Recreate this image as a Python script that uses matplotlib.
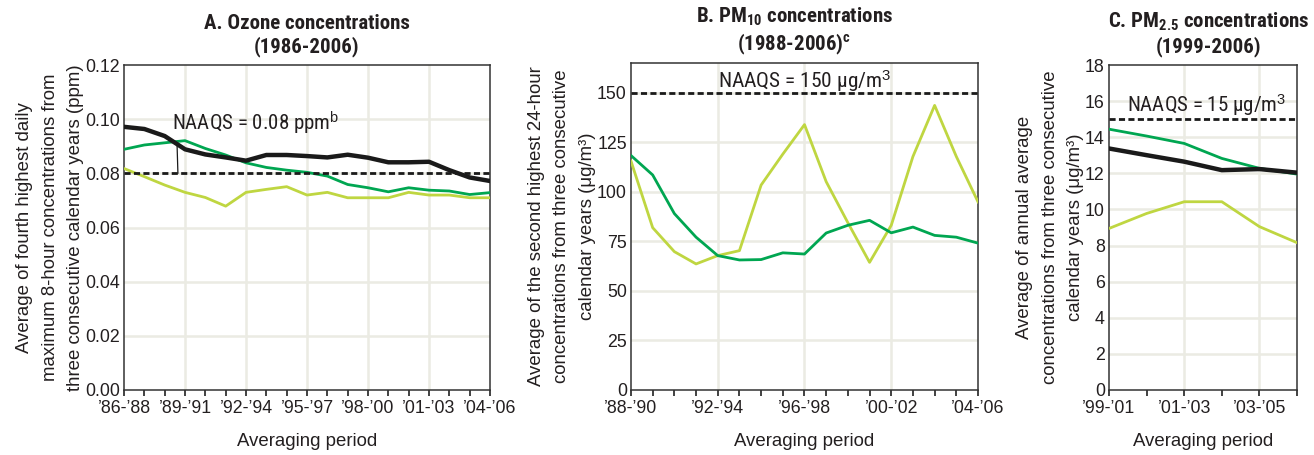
import matplotlib
matplotlib.use("Agg")
import matplotlib.pyplot as plt
from matplotlib import font_manager as fm

names = {f.name for f in fm.fontManager.ttflist}
REG = 'Liberation Sans' if 'Liberation Sans' in names else 'DejaVu Sans'


def _wnum(w):
    if isinstance(w, (int, float)):
        return int(w)
    return {'normal': 400, 'regular': 400, 'book': 400, 'medium': 500, 'semibold': 600,
            'demibold': 600, 'bold': 700, 'heavy': 800, 'black': 900, 'light': 300}.get(str(w).lower(), 400)


def find_narrow(bold):
    pref = ['liberation sans narrow', 'roboto condensed', 'open sans condensed', 'noto sans',
            'dejavu sans', 'lato', 'inter']
    best = None
    for f in fm.fontManager.ttflist:
        fn = f.fname.lower().replace('-', '').replace('_', '')
        nm = f.name.lower()
        st = str(f.stretch).lower()
        if 'semicondensed' in fn or 'extracondensed' in fn or 'ultracondensed' in fn:
            continue
        narrow = ('narrow' in nm or 'condensed' in nm or st == 'condensed'
                  or 'condensed' in fn or 'narrow' in fn)
        if not narrow or f.style != 'normal':
            continue
        if any(k in nm for k in ('cjk', 'mono', 'serif')):
            continue
        w = _wnum(f.weight)
        if bold and not (650 <= w <= 750):
            continue
        if not bold and not (380 <= w <= 420):
            continue
        rank = len(pref)
        for i, p in enumerate(pref):
            if nm.startswith(p):
                rank = i
                break
        if best is None or rank < best[0]:
            best = (rank, f.fname, f.name)
    return best


nb = find_narrow(True)
nr = find_narrow(False)


def title_fp(size):
    if nb:
        return fm.FontProperties(fname=nb[1], size=size)
    return fm.FontProperties(family=REG, weight='bold', size=size * 0.83)


def naaqs_fp(size):
    if nr:
        return fm.FontProperties(fname=nr[1], size=size)
    return fm.FontProperties(family=REG, size=size * 0.85)


TITLE_FAMILY = nb[2] if nb else REG

plt.rcParams['font.family'] = [REG, 'DejaVu Sans']
plt.rcParams['mathtext.fontset'] = 'custom'
plt.rcParams['mathtext.rm'] = REG
plt.rcParams['mathtext.it'] = REG
plt.rcParams['mathtext.bf'] = TITLE_FAMILY + ':bold'

# ---------------- data ----------------
ozone_periods = ["\u201986-\u201988", "\u201987-\u201989", "\u201988-\u201990", "\u201989-\u201991",
                 "\u201990-\u201992", "\u201991-\u201993", "\u201992-\u201994", "\u201993-\u201995",
                 "\u201994-\u201996", "\u201995-\u201997", "\u201996-\u201998", "\u201997-\u201999",
                 "\u201998-\u201900", "\u201999-\u201901", "\u201900-\u201902", "\u201901-\u201903",
                 "\u201902-\u201904", "\u201903-\u201905", "\u201904-\u201906"]
ozone_black = [0.0972, 0.0964, 0.0938, 0.0889, 0.0870, 0.0859, 0.0847, 0.0868, 0.0868, 0.0864,
               0.0859, 0.0869, 0.0858, 0.0841, 0.0841, 0.0843, 0.0812, 0.0785, 0.0772]
ozone_dark = [0.0889, 0.0905, 0.0913, 0.0921, 0.0892, 0.0868, 0.0839, 0.0822, 0.0812, 0.0804,
              0.0790, 0.0759, 0.0747, 0.0732, 0.0747, 0.0738, 0.0735, 0.0722, 0.0729]
ozone_light = [0.0818, 0.0788, 0.0757, 0.0730, 0.0711, 0.0679, 0.0730, 0.0741, 0.0751, 0.0720,
               0.0730, 0.0710, 0.0710, 0.0710, 0.0730, 0.0720, 0.0720, 0.0710, 0.0710]
ozone_naaqs = 0.08

pm10_periods = ["\u201988-\u201990", "\u201989-\u201991", "\u201990-\u201992", "\u201991-\u201993",
                "\u201992-\u201994", "\u201993-\u201995", "\u201994-\u201996", "\u201995-\u201997",
                "\u201996-\u201998", "\u201997-\u201999", "\u201998-\u201900", "\u201999-\u201901",
                "\u201900-\u201902", "\u201901-\u201903", "\u201902-\u201904", "\u201903-\u201905",
                "\u201904-\u201906"]
pm10_dark = [118.3, 108.5, 89.0, 77.1, 67.8, 65.6, 65.8, 69.2, 68.6, 79.2, 83.1, 85.6, 79.3,
             82.2, 78.0, 77.1, 74.1]
pm10_light = [115.5, 81.9, 69.8, 63.6, 67.8, 70.3, 103.4, 119.0, 133.9, 105.1, 84.4, 64.4,
              83.1, 117.8, 143.6, 117.8, 94.9]
pm10_naaqs = 150

pm25_periods = ["\u201999-\u201901", "\u201900-\u201902", "\u201901-\u201903", "\u201902-\u201904",
                "\u201903-\u201905", "\u201904-\u201906"]
pm25_dark = [14.45, 14.07, 13.66, 12.83, 12.28, 11.96]
pm25_black = [13.38, 13.01, 12.65, 12.18, 12.24, 12.04]
pm25_light = [8.95, 9.78, 10.43, 10.43, 9.05, 8.16]
pm25_naaqs = 15

# ---------------- style ----------------
DARK = '#00A651'
LIGHT = '#BFD641'
BLACK = '#1A1A1A'
GRID = '#EBEBE3'
TXT = '#231F20'
DASH = (2.2, 1.2)

fig = plt.figure(figsize=(13.14, 4.55), dpi=100)
bottom, height = 0.1429, 0.714
axA = fig.add_axes([0.0944, bottom, 0.2785, height])
axB = fig.add_axes([0.4802, bottom, 0.2641, 0.7187])
axC = fig.add_axes([0.8440, bottom, 0.1431, height])


def style(ax, labels, label_every, yticks, ylim, fmt):
    n = len(labels)
    x = list(range(n))
    ax.set_xlim(0, n - 1)
    ax.set_ylim(*ylim)
    ax.set_xticks(x)
    ax.set_xticklabels([lab if i % label_every == 0 else '' for i, lab in enumerate(labels)])
    ax.set_yticks(yticks)
    ax.set_yticklabels([fmt(v) for v in yticks])
    for i in x:
        if i % label_every == 0 and 0 < i < n - 1:
            ax.axvline(i, color=GRID, lw=1.8, zorder=0)
    for v in yticks:
        if ylim[0] < v < ylim[1]:
            ax.axhline(v, color=GRID, lw=1.8, zorder=0)
    for s in ax.spines.values():
        s.set_color('#333333')
        s.set_linewidth(1.1)
    ax.tick_params(axis='x', direction='out', length=4, width=1.3, color='#333333',
                   labelsize=12.8, labelcolor=TXT, pad=3)
    ax.tick_params(axis='y', length=0, labelsize=12.8, labelcolor=TXT, pad=3)
    ax.set_xlabel('Averaging period', fontsize=13.4, color=TXT, labelpad=12)
    return x


def ylab(ax, text):
    ax.set_ylabel(text, fontsize=13.4, color=TXT, labelpad=1, linespacing=1.62)


def title(ax, text, x):
    ax.set_title(text, color=TXT, pad=9, x=x, linespacing=1.2, fontproperties=title_fp(15))


# Panel A
xA = style(axA, ozone_periods, 3, [0, 0.02, 0.04, 0.06, 0.08, 0.10, 0.12], (0, 0.12),
           lambda v: f"{v:.2f}")
axA.plot(xA, ozone_light, color=LIGHT, lw=2.0, zorder=3)
axA.plot(xA, ozone_dark, color=DARK, lw=2.0, zorder=4)
axA.plot(xA, ozone_black, color=BLACK, lw=3.2, zorder=5)
axA.axhline(ozone_naaqs, color=BLACK, lw=2.0, dashes=DASH, zorder=6)
axA.annotate('NAAQS = 0.08 ppm$^{\\mathrm{b}}$', xy=(2.65, ozone_naaqs), xytext=(2.35, 0.0958),
             color=TXT, ha='left', va='baseline', fontproperties=naaqs_fp(15),
             arrowprops=dict(arrowstyle='-', color=BLACK, lw=0.9, shrinkA=2, shrinkB=0,
                             relpos=(0.03, 0.0)))
ylab(axA, 'Average of fourth highest daily\nmaximum 8-hour concentrations from\n'
          'three consecutive calendar years (ppm)')
title(axA, 'A. Ozone concentrations\n(1986-2006)', 0.5)

# Panel B
xB = style(axB, pm10_periods, 4, [0, 25, 50, 75, 100, 125, 150], (0, 165),
           lambda v: f"{v:d}")
axB.plot(xB, pm10_light, color=LIGHT, lw=2.0, zorder=3)
axB.plot(xB, pm10_dark, color=DARK, lw=2.0, zorder=4)
axB.axhline(pm10_naaqs, color=BLACK, lw=2.0, dashes=DASH, zorder=6)
axB.text(0.5, 152.5, 'NAAQS = 150 \u03bcg/m$^3$', transform=axB.get_yaxis_transform(),
         color=TXT, ha='center', va='baseline', fontproperties=naaqs_fp(15.4))
ylab(axB, 'Average of the second highest 24-hour\nconcentrations from three consecutive\n'
          'calendar years (\u03bcg/m\u00b3)')
title(axB, 'B. PM$_{\\mathbf{10}}$ concentrations\n(1988-2006)$^{\\mathbf{c}}$', 0.47)

# Panel C
xC = style(axC, pm25_periods, 2, list(range(0, 19, 2)), (0, 18), lambda v: f"{v:d}")
axC.plot(xC, pm25_light, color=LIGHT, lw=2.0, zorder=3)
axC.plot(xC, pm25_dark, color=DARK, lw=2.0, zorder=4)
axC.plot(xC, pm25_black, color=BLACK, lw=3.2, zorder=5)
axC.axhline(pm25_naaqs, color=BLACK, lw=2.0, dashes=DASH, zorder=6)
axC.text(0.096, 15.4, 'NAAQS = 15 \u03bcg/m$^3$', transform=axC.get_yaxis_transform(),
         color=TXT, ha='left', va='baseline', fontproperties=naaqs_fp(15))
ylab(axC, 'Average of annual average\nconcentrations from three consecutive\n'
          'calendar years (\u03bcg/m\u00b3)')
title(axC, 'C. PM$_{\\mathbf{2.5}}$ concentrations\n(1999-2006)', 0.53)

fig.savefig('out.png', dpi=100, facecolor='white')
